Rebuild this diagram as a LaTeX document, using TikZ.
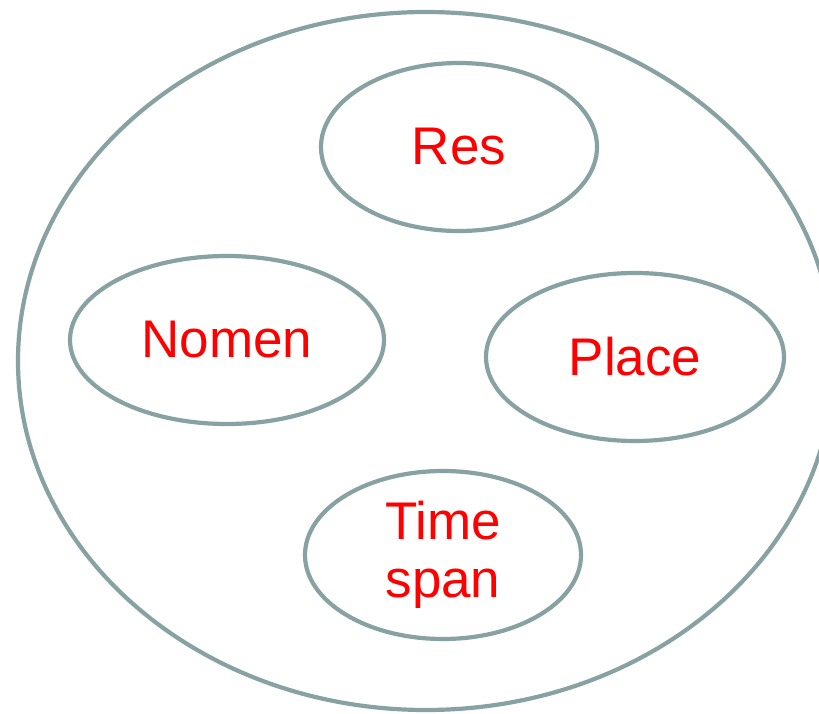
\documentclass[tikz,border=0pt]{standalone}
\usepackage{fontspec}
\setmainfont{Liberation Sans}
\usetikzlibrary{positioning,shapes.geometric}
\definecolor{rim}{RGB}{136,161,162}

\begin{document}
\begin{tikzpicture}[x=1pt, y=-1pt,
                    set/.style={draw=rim, line width=4.2pt, ellipse, inner sep=0pt, minimum height=168pt},
                    lbl/.style={text=red, font=\fontsize{53}{58}\selectfont, align=center}]
                    \useasboundingbox (0,0) rectangle (819,714);
                    \node[set, minimum width=816pt, minimum height=698pt] (domain) at (426,361) {};
                    \node[set, lbl, minimum width=276pt] (res) at (459,147) {Res};
                    \node[set, lbl, minimum width=314pt] (nomen) at (227,340) {Nomen};
                    \node[set, lbl, minimum width=298pt] (place) at (635,357) {Place};
                    \node[set, lbl, minimum width=276pt] (time) at (443,555) {Time\\span};
                \end{tikzpicture}
\end{document}
